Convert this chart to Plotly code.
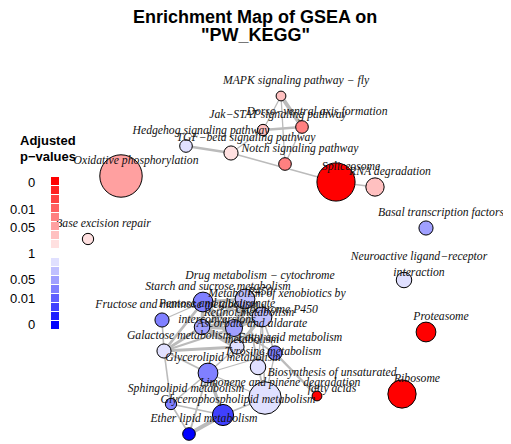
import plotly.graph_objects as go

# ---------------- data ----------------
pathways = [
    "MAPK signaling pathway − fly", "Dorso−ventral axis formation", "Jak−STAT signaling pathway",
    "Hedgehog signaling pathway", "TGF−beta signaling pathway", "Notch signaling pathway",
    "Oxidative phosphorylation", "Spliceosome", "RNA degradation", "Base excision repair",
    "Basal transcription factors", "Neuroactive ligand−receptor<br>interaction", "Proteasome",
    "Ribosome", "Biosynthesis of unsaturated<br>fatty acids",
    "Starch and sucrose metabolism", "Drug metabolism − cytochrome<br>P450",
    "Metabolism of xenobiotics by<br>cytochrome P450", "Fructose and mannose metabolism",
    "Pentose and glucuronate<br>interconversions", "Retinol metabolism", "Galactose metabolism",
    "Ascorbate and aldarate<br>metabolism", "Fatty acid metabolism", "Tyrosine metabolism",
    "Glycerolipid metabolism", "Limonene and pinene degradation", "Sphingolipid metabolism",
    "Glycerophospholipid metabolism", "Ether lipid metabolism",
]
# layout coordinates of the network
layout_x = [281, 302, 263, 186, 231, 285, 121, 336, 375, 88, 426, 404, 426, 402, 317,
            203, 245, 262, 162, 202, 234, 164, 237, 275, 258, 208, 265, 171, 223, 189]
layout_y = [96, 127, 130, 146, 153, 164, 176, 182, 187, 239, 228, 280, 332, 394, 396,
            302, 299, 317, 320, 327, 328, 351, 347, 353, 367, 373, 398, 404, 415, 434]
gene_set_size = [12, 20, 16, 20, 25, 20, 225, 182, 42, 16, 25, 30, 49, 100, 12,
                 49, 49, 49, 25, 30, 36, 25, 25, 25, 30, 49, 132, 16, 56, 20]
adjusted_p = [0.35, 0.035, 0.4, 0.7, 0.7, 0.04, 0.1, 0.0, 0.3, 0.8, 0.1, 0.7, 0.0, 0.0, 0.0,
              0.04, 0.3, 0.3, 0.04, 0.15, 0.12, 0.7, 0.7, 0.04, 0.7, 0.04, 0.7, 0.04, 0.008, 0.0]
direction = [1, 1, 1, -1, 1, 1, 1, 1, 1, 1, -1, -1, 1, 1, 1,
             -1, -1, -1, -1, -1, -1, -1, -1, -1, -1, -1, -1, -1, -1, -1]

edge_source = [0, 0, 0, 2, 1, 2, 3, 4, 7,
               16, 16, 17, 16, 17, 19, 19, 20, 16, 17, 15, 15, 15, 15, 15, 15, 15,
               18, 21, 21, 21, 21, 21, 16, 17, 17, 20, 23, 23, 24, 17, 16,
               25, 25, 25, 25, 25, 28, 28, 27, 27, 25]
edge_target = [1, 2, 5, 1, 5, 4, 4, 7, 8,
               17, 20, 20, 19, 19, 22, 20, 22, 22, 22, 19, 22, 20, 16, 17, 21, 18,
               21, 19, 22, 20, 25, 27, 24, 24, 23, 23, 14, 26, 26, 26, 26,
               28, 27, 29, 26, 22, 29, 26, 29, 28, 23]
edge_overlap = [0.6, 0.15, 0.15, 0.35, 0.15, 0.15, 0.35, 0.15, 0.15,
                0.8, 0.6, 0.6, 0.5, 0.4, 0.8, 0.6, 0.6, 0.5, 0.5, 0.5, 0.4, 0.4, 0.4, 0.3, 0.4, 0.15,
                0.2, 0.4, 0.4, 0.3, 0.25, 0.2, 0.15, 0.15, 0.2, 0.2, 0.35, 0.15, 0.15, 0.2, 0.15,
                0.5, 0.2, 0.25, 0.15, 0.2, 0.6, 0.2, 0.2, 0.2, 0.15]

legend_red_labels = ["0", "0.01", "0.05", "1"]
legend_blue_labels = ["0.05", "0.01", "0"]

# ---------------- helpers ----------------
p_breaks = [0.001, 0.005, 0.01, 0.03, 0.05, 0.2, 0.6]


def shade_level(p):
    k = 0
    for b in p_breaks:
        if p >= b:
            k += 1
    return k


def shade(k, sign):
    v = 32 * k
    if sign > 0:
        return f"rgb(255,{v},{v})"
    return f"rgb({v},{v},255)"


fig = go.Figure()

# edges
for s, t, w in zip(edge_source, edge_target, edge_overlap):
    fig.add_trace(go.Scatter(
        x=[layout_x[s], layout_x[t]], y=[layout_y[s], layout_y[t]],
        mode="lines", line=dict(color="#BBBBBB", width=0.4 + 6 * w),
        hoverinfo="skip", showlegend=False))

# nodes
fig.add_trace(go.Scatter(
    x=layout_x, y=layout_y, mode="markers",
    marker=dict(size=gene_set_size, sizemode="area", sizeref=0.25, opacity=1,
                color=[shade(shade_level(p), d) for p, d in zip(adjusted_p, direction)],
                line=dict(color="black", width=1)),
    hovertext=pathways, hoverinfo="text", showlegend=False))

# labels
fig.add_trace(go.Scatter(
    x=[x + 15 for x in layout_x], y=[y - 15 for y in layout_y], mode="text",
    text=pathways, textposition="middle center",
    textfont=dict(family="Liberation Serif", size=11.7, color="#111111", style="italic"),
    hoverinfo="skip", showlegend=False))

# legend colour bars
shapes = []
for k in range(8):
    y0 = 177 + 9 * k
    shapes.append(dict(type="rect", xref="x", yref="y", x0=51, x1=59, y0=y0, y1=y0 + 8,
                       fillcolor=shade(k, 1), line=dict(width=0)))
for k in range(8):
    y0 = 258 + 9 * k
    shapes.append(dict(type="rect", xref="x", yref="y", x0=51, x1=59, y0=y0, y1=y0 + 8,
                       fillcolor=shade(7 - k, -1), line=dict(width=0)))

annotations = []
for txt, yy in zip(legend_red_labels, [182, 209, 227, 253]):
    annotations.append(dict(x=37, y=yy, xref="x", yref="y", text=txt, showarrow=False,
                            xanchor="right", yanchor="middle",
                            font=dict(family="Liberation Sans", size=13, color="black")))
for txt, yy in zip(legend_blue_labels, [279, 298, 324]):
    annotations.append(dict(x=37, y=yy, xref="x", yref="y", text=txt, showarrow=False,
                            xanchor="right", yanchor="middle",
                            font=dict(family="Liberation Sans", size=13, color="black")))
for txt, yy in zip(["Adjusted", "p−values"], [140, 156]):
    annotations.append(dict(x=18, y=yy, xref="x", yref="y", text="<b>" + txt + "</b>",
                            showarrow=False, xanchor="left", yanchor="middle",
                            font=dict(family="Liberation Sans", size=13, color="black")))
for txt, yy in zip(["Enrichment Map of GSEA on", "\"PW_KEGG\""], [17, 35]):
    annotations.append(dict(x=255, y=yy, xref="x", yref="y", text="<b>" + txt + "</b>",
                            showarrow=False, xanchor="center", yanchor="middle",
                            font=dict(family="Liberation Sans", size=18, color="black")))

# page has an 8px body margin: shrink the figure and shift the ranges to compensate
fig.update_layout(
    width=503, height=436, margin=dict(l=0, r=0, t=0, b=0),
    paper_bgcolor="white", plot_bgcolor="white",
    xaxis=dict(range=[8, 511], visible=False, fixedrange=True),
    yaxis=dict(range=[444, 8], visible=False, fixedrange=True),
    shapes=shapes, annotations=annotations,
)

fig.write_html("out.html")
